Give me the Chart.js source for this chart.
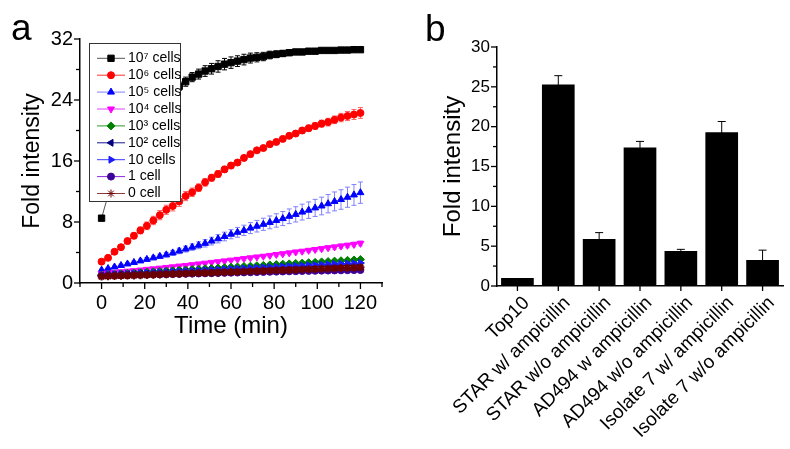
<!DOCTYPE html>
<html>
<head>
<meta charset="utf-8">
<script src="https://cdn.jsdelivr.net/npm/chart.js@4.4.0/dist/chart.umd.min.js"></script>
<style>
body { margin: 0; background: #fff; }
#wrapA { position: absolute; left: 0; top: 0; width: 395px; height: 449px; }
#wrapB { position: absolute; left: 395px; top: 0; width: 395px; height: 449px; }
</style>
</head>
<body>
<div id="wrapA"><canvas id="chartA" width="395" height="449"></canvas></div>
<div id="wrapB"><canvas id="chartB" width="395" height="449"></canvas></div>
<script>
// Datos panel a (tiempo en min)
const times = [0,3,6,9,12,15,18,21,24,27,30,33,36,39,42,45,48,51,54,57,60,63,66,69,72,75,78,81,84,87,90,93,96,99,102,105,108,111,114,117,120];
const cells1e7 = [8.5,11.5,15.0,17.6,19.5,20.9,22.0,22.9,23.6,24.3,24.8,25.3,25.8,26.4,27.0,27.4,27.8,28.1,28.4,28.7,28.9,29.1,29.3,29.5,29.6,29.7,29.9,30.0,30.1,30.2,30.3,30.3,30.4,30.4,30.5,30.5,30.5,30.55,30.55,30.6,30.6];
const cells1e6 = [2.8,3.3,4.1,4.7,5.5,6.2,6.9,7.5,8.2,8.9,9.6,10.1,10.7,11.4,11.9,12.5,13.2,13.8,14.3,14.9,15.4,15.8,16.4,16.9,17.4,17.7,18.2,18.5,18.9,19.3,19.6,20.0,20.3,20.6,20.9,21.1,21.4,21.7,21.9,22.1,22.3];
const cells1e5 = [1.7,1.9,2.1,2.3,2.5,2.7,2.9,3.1,3.3,3.5,3.7,3.95,4.2,4.45,4.7,4.95,5.2,5.5,5.8,6.1,6.4,6.65,6.9,7.2,7.45,7.7,7.95,8.2,8.45,8.75,9.0,9.3,9.55,9.85,10.1,10.4,10.7,10.95,11.25,11.55,11.85];
const cells1e4 = [1.25,1.3,1.4,1.47,1.55,1.62,1.7,1.79,1.86,1.95,2.04,2.12,2.22,2.3,2.4,2.5,2.6,2.7,2.79,2.9,3.0,3.1,3.2,3.3,3.41,3.51,3.62,3.73,3.83,3.95,4.06,4.16,4.28,4.39,4.5,4.62,4.72,4.84,4.94,5.06,5.2];
const cells1e3 = [1.05,1.1,1.15,1.21,1.26,1.31,1.36,1.42,1.46,1.52,1.57,1.61,1.67,1.71,1.77,1.81,1.87,1.91,1.97,2.01,2.07,2.11,2.17,2.21,2.27,2.31,2.37,2.41,2.47,2.51,2.57,2.61,2.67,2.71,2.77,2.81,2.87,2.92,2.97,3.02,3.08];
const cells1e2 = [1.0,1.03,1.07,1.1,1.14,1.17,1.21,1.24,1.28,1.31,1.35,1.38,1.42,1.45,1.49,1.52,1.56,1.59,1.62,1.66,1.69,1.72,1.76,1.79,1.82,1.86,1.89,1.92,1.96,1.99,2.02,2.06,2.09,2.12,2.16,2.19,2.23,2.27,2.31,2.35,2.4];
const cells10 = [1.05,1.09,1.13,1.17,1.21,1.25,1.29,1.33,1.37,1.41,1.45,1.49,1.53,1.57,1.61,1.65,1.69,1.73,1.77,1.81,1.85,1.89,1.93,1.97,2.01,2.05,2.09,2.13,2.17,2.21,2.25,2.29,2.33,2.37,2.41,2.45,2.49,2.52,2.55,2.58,2.62];
const cells1 = [0.95,0.97,0.99,1.01,1.03,1.05,1.07,1.09,1.11,1.13,1.15,1.17,1.19,1.21,1.23,1.25,1.27,1.29,1.31,1.33,1.35,1.37,1.39,1.41,1.43,1.45,1.47,1.49,1.51,1.53,1.55,1.57,1.59,1.6,1.62,1.63,1.65,1.66,1.68,1.69,1.7];
const cells0 = [0.85,0.88,0.91,0.94,0.97,1.0,1.03,1.06,1.09,1.12,1.15,1.18,1.21,1.24,1.27,1.3,1.33,1.36,1.39,1.42,1.45,1.48,1.51,1.54,1.57,1.6,1.63,1.66,1.69,1.72,1.75,1.78,1.81,1.84,1.87,1.9,1.93,1.96,1.99,2.02,2.05];

// Barras de error
const err1e7 = [0.1,0.6,0.7,0.7,0.7,0.7,0.7,0.7,0.7,0.7,0.7,0.6,0.55,0.6,0.6,0.65,0.7,0.7,0.75,0.75,0.75,0.7,0.7,0.65,0.6,0.55,0.5,0.45,0.4,0.35,0.3,0.3,0.3,0.28,0.28,0.26,0.26,0.25,0.25,0.25,0.25];
const err1e6 = [0.2,0.2,0.25,0.3,0.35,0.4,0.45,0.5,0.55,0.6,0.6,0.65,0.65,0.6,0.55,0.5,0.5,0.45,0.45,0.4,0.4,0.35,0.35,0.35,0.3,0.3,0.3,0.3,0.3,0.35,0.35,0.4,0.4,0.45,0.45,0.5,0.5,0.55,0.6,0.65,0.7];
const err1e5 = [0.1,0.12,0.14,0.16,0.18,0.2,0.22,0.24,0.26,0.28,0.3,0.33,0.36,0.39,0.42,0.45,0.48,0.51,0.54,0.57,0.6,0.64,0.68,0.72,0.76,0.8,0.84,0.88,0.92,0.96,1.0,1.04,1.08,1.12,1.16,1.2,1.24,1.28,1.32,1.36,1.4];
const err1e4 = [0.05,0.06,0.06,0.07,0.08,0.08,0.09,0.1,0.1,0.11,0.12,0.12,0.13,0.14,0.14,0.15,0.16,0.16,0.17,0.18,0.18,0.19,0.2,0.2,0.21,0.22,0.22,0.23,0.24,0.24,0.25,0.26,0.26,0.27,0.28,0.28,0.29,0.3,0.3,0.31,0.32];
const errLow = [0.05,0.05,0.05,0.06,0.06,0.06,0.07,0.07,0.07,0.08,0.08,0.08,0.09,0.09,0.09,0.1,0.1,0.1,0.1,0.11,0.11,0.11,0.12,0.12,0.12,0.12,0.13,0.13,0.13,0.13,0.14,0.14,0.14,0.14,0.15,0.15,0.15,0.15,0.15,0.16,0.16];

const seriesLabels = ['10\u2077 cells','10\u2076 cells','10\u2075 cells','10\u2074 cells','10\u00b3 cells','10\u00b2 cells','10 cells','1 cell','0 cell'];
const seriesValues = [cells1e7, cells1e6, cells1e5, cells1e4, cells1e3, cells1e2, cells10, cells1, cells0];
const seriesErrors = [err1e7, err1e6, err1e5, err1e4, errLow, errLow, errLow, errLow, errLow];
const markerColors = ['#000000','#ff0000','#0000ff','#ff00ff','#008000','#000080','#1a1aff','#3d0099','#6b0000'];
const lineColors = ['#555555','#ff3030','#8080ff','#e040ff','#2a9a2a','#1a1a90','#3a3aff','#8a2be2','#8b3a3a'];
const errColors = ['#000000','#ff6060','#8080ff','#e080ff','#60a060','#6060a0','#6060ff','#9060c0','#a06060'];
const markerStyles = ['rect','circle','triangle','triangle','rectRot','triangle','triangle','circle','star'];
const markerRotations = [0,0,0,180,0,-90,90,0,0];
const markerRadius = [4.5,3.5,4,4,4,4,4,3.5,4];

// Datos panel b
const strains = ['Top10','STAR w/ ampicillin','STAR w/o ampicillin','AD494 w ampicillin','AD494 w/o ampicillin','Isolate 7 w/ ampicillin','Isolate 7 w/o ampicillin'];
const foldB = [1.0, 25.3, 5.9, 17.4, 4.4, 19.3, 3.25];
const errB = [0, 1.1, 0.8, 0.75, 0.2, 1.35, 1.25];

const FONT = "'Liberation Sans', 'DejaVu Sans', Arial, sans-serif";

// Barras de error: se dibujan antes de cada dataset
const errorBars = {
    id: 'errorBars',
    beforeDatasetDraw(chart, args, opts) {
        const errs = opts.errors && opts.errors[args.index];
        if (!errs) return;
        const vals = opts.values[args.index];
        const yS = chart.scales.y;
        const ctx = chart.ctx;
        ctx.save();
        ctx.strokeStyle = opts.colors[args.index];
        ctx.lineWidth = 1;
        args.meta.data.forEach((pt, j) => {
            const e = errs[j];
            if (!e) return;
            const y1 = yS.getPixelForValue(vals[j] + e);
            const y2 = yS.getPixelForValue(vals[j] - e);
            ctx.beginPath();
            ctx.moveTo(pt.x, y1); ctx.lineTo(pt.x, y2);
            ctx.moveTo(pt.x - opts.cap, y1); ctx.lineTo(pt.x + opts.cap, y1);
            ctx.moveTo(pt.x - opts.cap, y2); ctx.lineTo(pt.x + opts.cap, y2);
            ctx.stroke();
        });
        ctx.restore();
    }
};

// Marcas de los ejes (mayores y menores)
const axisTicks = {
    id: 'axisTicks',
    afterDraw(chart, args, opts) {
        const ctx = chart.ctx;
        ctx.save();
        ctx.strokeStyle = '#000';
        ctx.lineWidth = 1.3;
        (opts.marks || []).forEach(m => {
            const s = chart.scales[m.axis];
            m.values.forEach(v => {
                const p = s.getPixelForValue(v);
                ctx.beginPath();
                if (m.axis === 'x') { ctx.moveTo(p, s.top); ctx.lineTo(p, s.top + m.len); }
                else { ctx.moveTo(s.right, p); ctx.lineTo(s.right - m.len, p); }
                ctx.stroke();
            });
        });
        ctx.restore();
    }
};

// Leyenda con recuadro dentro del área
const boxLegend = {
    id: 'boxLegend',
    afterDraw(chart, args, opts) {
        if (!opts.show) return;
        const ctx = chart.ctx;
        ctx.save();
        ctx.fillStyle = '#fff';
        ctx.fillRect(opts.x, opts.y, opts.w, opts.h);
        ctx.strokeStyle = '#333';
        ctx.lineWidth = 1;
        ctx.strokeRect(opts.x + 0.5, opts.y + 0.5, opts.w, opts.h);
        chart.data.datasets.forEach((ds, i) => {
            const cy = opts.y + opts.first + i * opts.step;
            ctx.strokeStyle = ds.borderColor;
            ctx.lineWidth = 1;
            ctx.beginPath();
            ctx.moveTo(opts.x + 8, cy); ctx.lineTo(opts.x + 36, cy);
            ctx.stroke();
            ctx.fillStyle = ds.pointBackgroundColor;
            ctx.strokeStyle = ds.pointBorderColor;
            Chart.helpers.drawPoint(ctx, {
                pointStyle: ds.pointStyle, rotation: ds.pointRotation || 0,
                radius: ds.pointRadius, borderWidth: ds.pointBorderWidth
            }, opts.x + 22, cy);
            ctx.fillStyle = '#000';
            ctx.font = '14px ' + FONT;
            ctx.textBaseline = 'middle';
            ctx.fillText(ds.label, opts.x + 39, cy);
        });
        ctx.restore();
    }
};

// Letra del panel
const panelLetter = {
    id: 'panelLetter',
    afterDraw(chart, args, opts) {
        const ctx = chart.ctx;
        ctx.save();
        ctx.fillStyle = '#000';
        ctx.font = '37px ' + FONT;
        ctx.textBaseline = 'alphabetic';
        ctx.fillText(opts.text, opts.x, opts.y);
        ctx.restore();
    }
};

function axisBase(size) {
    return {
        grid: { display: true, drawOnChartArea: false, drawTicks: false },
        border: { display: true, color: '#000', width: 1.5 },
        ticks: { color: '#000', font: { size: size, family: FONT }, autoSkip: false }
    };
}

// Panel a
const xA = axisBase(20);
Object.assign(xA, {
    type: 'linear', min: -10, max: 130,
    afterFit: s => { s.height = 60; },
    title: { display: true, text: 'Time (min)', color: '#000', font: { size: 24, family: FONT }, padding: { top: 0, bottom: 2 } }
});
Object.assign(xA.ticks, { stepSize: 10, maxRotation: 0, padding: 8, callback: v => (v % 20 === 0 && v >= 0 && v <= 120) ? v : '' });

const yA = axisBase(20);
Object.assign(yA, {
    min: 0, max: 32,
    afterFit: s => { s.width = 65; },
    title: { display: true, text: 'Fold intensity', color: '#000', font: { size: 23, family: FONT }, padding: { top: 4, bottom: 0 } }
});
Object.assign(yA.ticks, { stepSize: 4, padding: 7, callback: v => v % 8 === 0 ? v : '' });

new Chart(document.getElementById('chartA'), {
    type: 'line',
    data: {
        datasets: seriesValues.map((vals, i) => ({
            label: seriesLabels[i],
            data: vals.map((v, j) => ({ x: times[j], y: v })),
            borderColor: lineColors[i],
            borderWidth: 1,
            pointStyle: markerStyles[i],
            pointRotation: markerRotations[i],
            pointRadius: markerRadius[i],
            pointBackgroundColor: markerColors[i],
            pointBorderColor: markerColors[i],
            pointBorderWidth: markerStyles[i] === 'star' ? 2 : 1,
            order: seriesValues.length - i
        }))
    },
    options: {
        responsive: false,
        animation: false,
        layout: { padding: { left: 15, top: 39, right: 13, bottom: 106 } },
        scales: { x: xA, y: yA },
        plugins: {
            legend: { display: false },
            tooltip: { enabled: false },
            errorBars: { errors: seriesErrors, values: seriesValues, colors: errColors, cap: 2.5 },
            axisTicks: { marks: [
                { axis: 'x', values: [0,20,40,60,80,100,120], len: 6 },
                { axis: 'x', values: [-10,10,30,50,70,90,110,130], len: 4 },
                { axis: 'y', values: [0,8,16,24,32], len: 6 },
                { axis: 'y', values: [4,12,20,28], len: 4 }
            ] },
            boxLegend: { show: true, x: 89, y: 43, w: 91, h: 158, first: 15.3, step: 16.9 },
            panelLetter: { text: 'a', x: 11, y: 40 }
        }
    },
    plugins: [errorBars, axisTicks, boxLegend, panelLetter]
});

// Panel b
const xB = axisBase(19);
Object.assign(xB, {
    type: 'category', offset: true,
    afterFit: s => { s.height = 160; }
});
Object.assign(xB.ticks, { minRotation: 45, maxRotation: 45, padding: 6, labelOffset: 9 });

const yB = axisBase(17);
Object.assign(yB, {
    min: 0, max: 30,
    afterFit: s => { s.width = 62; },
    title: { display: true, text: 'Fold intensity', color: '#000', font: { size: 24, family: FONT }, padding: { top: 4, bottom: 0 } }
});
Object.assign(yB.ticks, { stepSize: 2.5, padding: 7, callback: v => v % 5 === 0 ? v : '' });

new Chart(document.getElementById('chartB'), {
    type: 'bar',
    data: {
        labels: strains,
        datasets: [{
            label: 'Fold intensity',
            data: foldB,
            backgroundColor: '#000',
            borderWidth: 0,
            barPercentage: 0.8,
            categoryPercentage: 1
        }]
    },
    options: {
        responsive: false,
        animation: false,
        layout: { padding: { left: 40, top: 47, right: 7, bottom: 3 } },
        scales: { x: xB, y: yB },
        plugins: {
            legend: { display: false },
            tooltip: { enabled: false },
            errorBars: { errors: [errB], values: [foldB], colors: ['#000'], cap: 4 },
            axisTicks: { marks: [
                { axis: 'x', values: [0,1,2,3,4,5,6], len: 5 },
                { axis: 'y', values: [0,5,10,15,20,25,30], len: 6 },
                { axis: 'y', values: [2.5,7.5,12.5,17.5,22.5,27.5], len: 4 }
            ] },
            panelLetter: { text: 'b', x: 30, y: 41 }
        }
    },
    plugins: [errorBars, axisTicks, panelLetter]
});
</script>
</body>
</html>
